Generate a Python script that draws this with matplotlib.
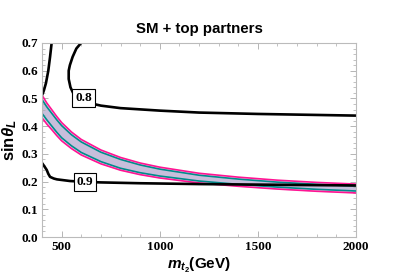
import matplotlib
matplotlib.use("Agg")
import matplotlib.pyplot as plt
from matplotlib.ticker import MultipleLocator

plt.rcParams['mathtext.fontset'] = 'custom'
plt.rcParams['mathtext.rm'] = 'Liberation Sans:bold'
plt.rcParams['mathtext.it'] = 'Liberation Sans:italic:bold'
plt.rcParams['mathtext.bf'] = 'Liberation Sans:bold'

# band
m_band = [400, 425, 450, 475, 500, 550, 600, 700, 800, 900, 1000, 1200, 1400, 1600, 1800, 2000]
pink_hi = [0.512, 0.483, 0.459, 0.435, 0.413, 0.379, 0.352, 0.314, 0.287, 0.267, 0.252, 0.230, 0.216, 0.205, 0.197, 0.191]
pink_lo = [0.430, 0.407, 0.387, 0.366, 0.347, 0.319, 0.296, 0.264, 0.241, 0.225, 0.213, 0.195, 0.183, 0.173, 0.165, 0.159]
teal_hi = [0.496, 0.469, 0.446, 0.423, 0.402, 0.369, 0.343, 0.306, 0.280, 0.260, 0.245, 0.223, 0.209, 0.198, 0.190, 0.184]
teal_lo = [0.446, 0.422, 0.400, 0.378, 0.358, 0.329, 0.305, 0.272, 0.248, 0.232, 0.220, 0.202, 0.190, 0.180, 0.172, 0.166]

# contours
m_c1 = [400, 405, 410, 420, 432, 441, 449]
s_c1 = [0.512, 0.52, 0.53, 0.555, 0.60, 0.65, 0.70]

m_c08 = [599, 575, 556, 542, 536, 536, 545, 565, 600, 650, 700, 800, 1000, 1200, 1500, 2000]
s_c08 = [0.70, 0.68, 0.65, 0.62, 0.60, 0.57, 0.54, 0.51, 0.495, 0.482, 0.474, 0.465, 0.456, 0.449, 0.444, 0.438]

m_c09 = [400, 412, 424, 432, 441, 460, 476, 543, 620, 700, 900, 1200, 1500, 2000]
s_c09 = [0.267, 0.255, 0.242, 0.228, 0.217, 0.211, 0.208, 0.202, 0.199, 0.197, 0.194, 0.191, 0.189, 0.186]

labels = ['0.8', '0.9']
label_pos = [(612, 0.502), (619, 0.199)]

fig = plt.figure(figsize=(3.99, 2.79), dpi=100)
ax = fig.add_axes([0.1053, 0.1505, 0.7869, 0.6954])

ax.fill_between(m_band, pink_lo, pink_hi, color='#ddd6e8', lw=0)
ax.fill_between(m_band, teal_lo, teal_hi, color='#c8bedb', lw=0)
ax.plot(m_band, teal_hi, color='#008b8b', lw=1.2)
ax.plot(m_band, teal_lo, color='#008b8b', lw=1.2)
ax.plot(m_band, pink_hi, color='#ff1493', lw=1.2)
ax.plot(m_band, pink_lo, color='#ff1493', lw=1.2)

for mm, ss in [(m_c1, s_c1), (m_c08, s_c08), (m_c09, s_c09)]:
    ax.plot(mm, ss, color='black', lw=1.9, solid_capstyle='butt')

for lab, (x, y) in zip(labels, label_pos):
    ax.text(x, y, lab, ha='center', va='center', fontsize=9.5, fontweight='bold',
            family='Liberation Serif',
            bbox=dict(boxstyle='square,pad=0.22', fc='white', ec='black', lw=0.8))

ax.set_xlim(400, 2000)
ax.set_ylim(0, 0.7)
ax.xaxis.set_major_locator(MultipleLocator(500))
ax.xaxis.set_minor_locator(MultipleLocator(100))
ax.yaxis.set_major_locator(MultipleLocator(0.1))
ax.yaxis.set_minor_locator(MultipleLocator(0.02))
ax.set_xticks([500, 1000, 1500, 2000])
ax.set_yticks([0.0, 0.1, 0.2, 0.3, 0.4, 0.5, 0.6, 0.7])
ax.set_yticklabels(['0.0', '0.1', '0.2', '0.3', '0.4', '0.5', '0.6', '0.7'])
ax.tick_params(which='both', direction='in', top=True, right=True, color='#aaaaaa')
ax.tick_params(which='major', length=4, width=0.6, pad=3)
ax.tick_params(which='minor', length=2, width=0.5)
for lab in ax.get_xticklabels() + ax.get_yticklabels():
    lab.set_family('Liberation Serif')
    lab.set_fontweight('bold')
    lab.set_fontsize(9.5)
for sp in ax.spines.values():
    sp.set_color('#bbbbbb')
    sp.set_linewidth(0.8)

ax.set_title('SM + top partners', fontsize=10.8, fontweight='bold',
             family='Liberation Sans', pad=7)
ax.set_xlabel(r'$m_{t_2}\mathrm{(GeV)}$', fontsize=11, labelpad=2)
ax.set_ylabel(r'$\mathrm{sin}\theta_L$', fontsize=12)
ax.yaxis.set_label_coords(-0.072, 0.5)

fig.savefig('out.png', dpi=100)
